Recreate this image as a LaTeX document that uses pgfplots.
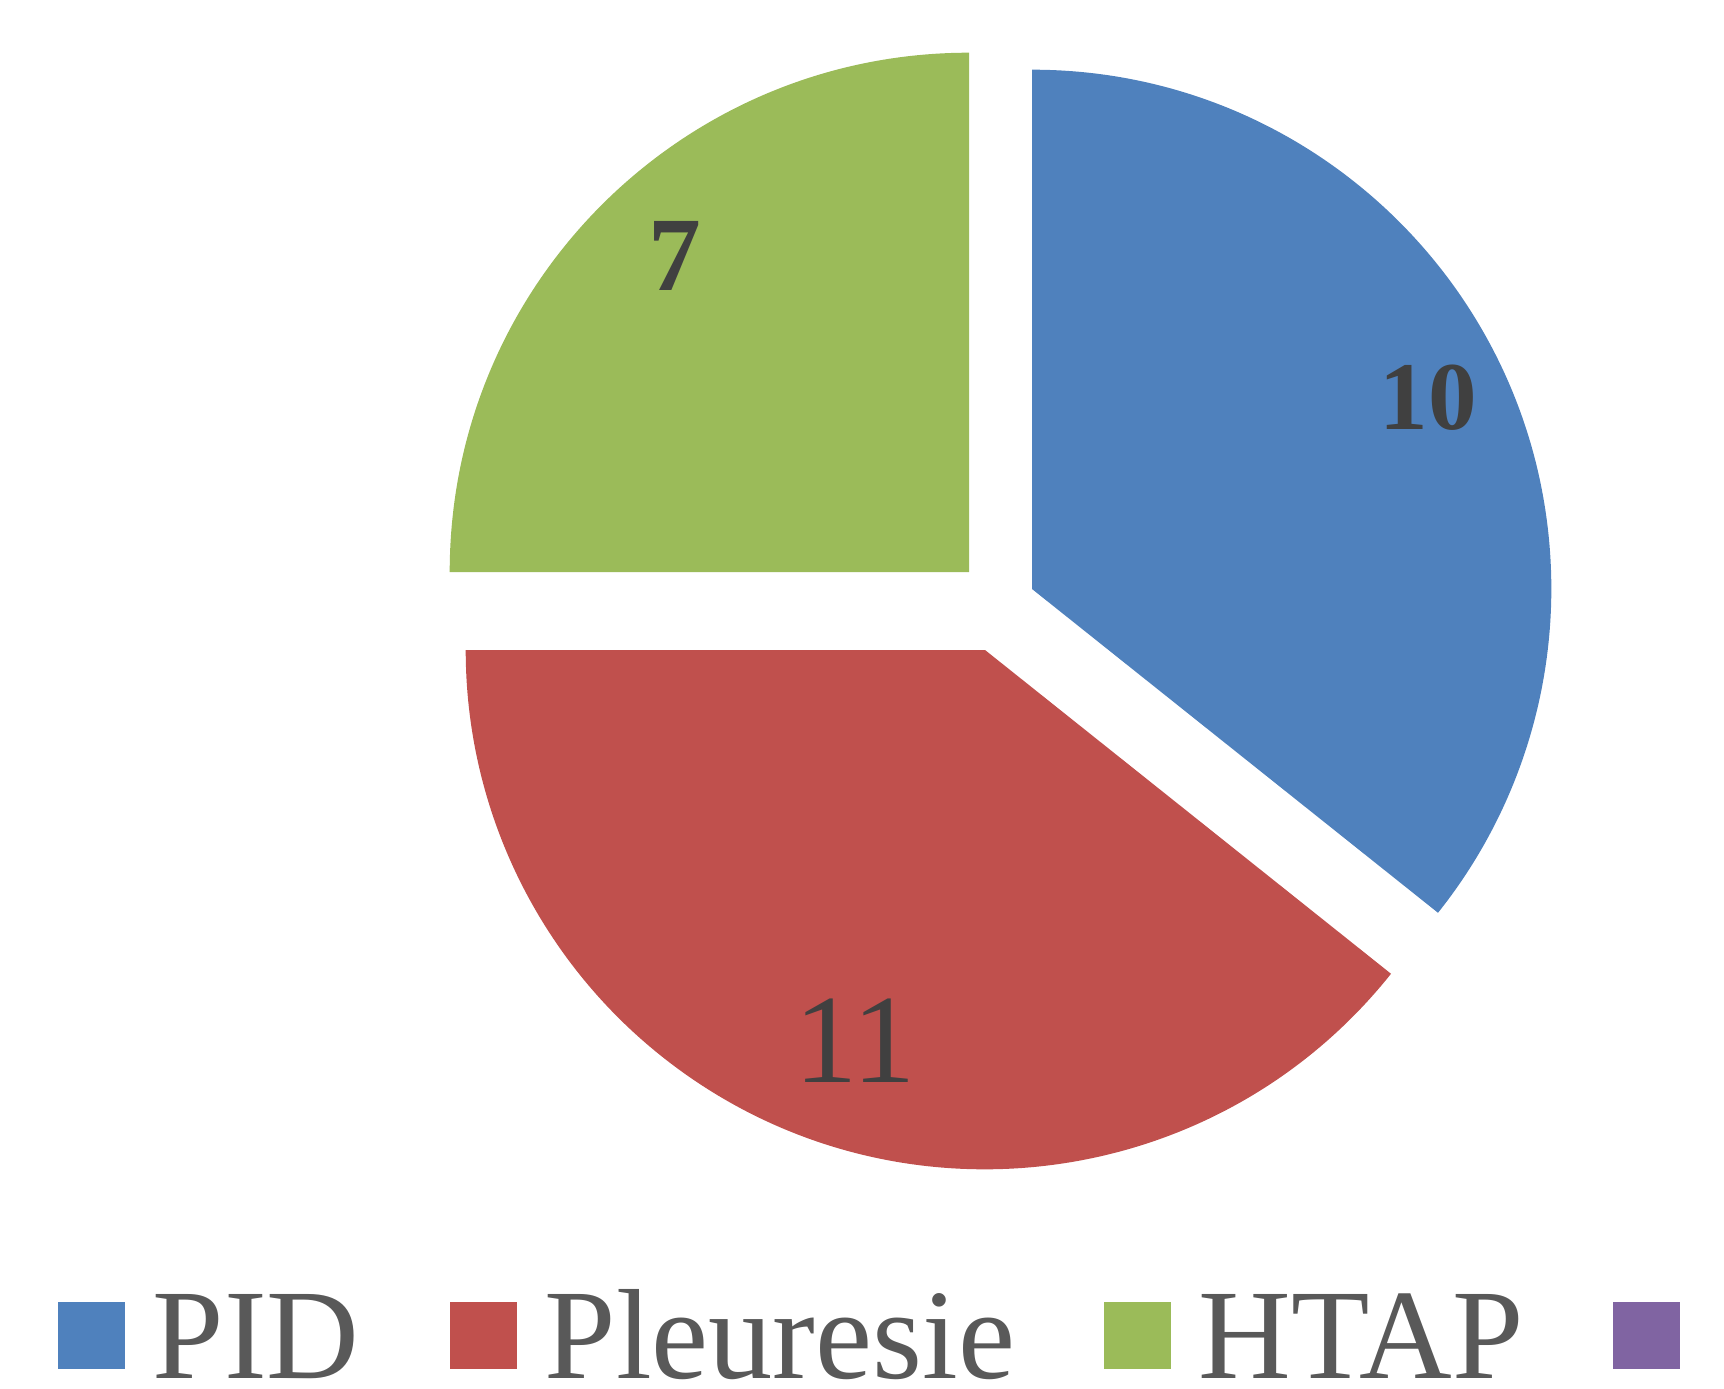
\documentclass[border=0pt]{standalone}
\usepackage{fontspec}
\setmainfont{Liberation Serif}
\usepackage{pgfplots}
\pgfplotsset{compat=1.18}
\usepackage{pgfplotstable}
\definecolor{cPID}{HTML}{4F81BD}
\definecolor{cPle}{HTML}{C0504D}
\definecolor{cHTAP}{HTML}{9BBB59}
\definecolor{cOther}{HTML}{8064A2}
\definecolor{lab}{HTML}{404040}
\definecolor{leg}{HTML}{595959}
\pgfplotstableread{
label value
PID 10
Pleuresie 11
HTAP 7
}\piedata
\pgfplotstablegetelem{0}{value}\of\piedata \let\vA\pgfplotsretval
\pgfplotstablegetelem{1}{value}\of\piedata \let\vB\pgfplotsretval
\pgfplotstablegetelem{2}{value}\of\piedata \let\vC\pgfplotsretval
\pgfmathsetmacro\total{\vA+\vB+\vC}
\pgfmathsetmacro\aA{90-360*\vA/\total}
\pgfmathsetmacro\aB{\aA-360*\vB/\total}
\pgfmathsetmacro\aC{\aB-360*\vC/\total}
\def\R{5.19cm}
\pgfkeys{/pgf/number format/assume math mode=true}
\begin{document}
\begin{tikzpicture}
\begin{axis}[
  x=0.01cm, y=0.01cm,
  xmin=0, xmax=1724, ymin=0, ymax=1388,
  hide axis, clip=false,
  /pgf/number format/assume math mode=true,
]
\path (axis cs:0,0) rectangle (axis cs:1724,1388);
% slices
\fill[cPID] (axis cs:1032,799) -- ++(90:\R) arc[start angle=90, end angle=\aA, radius=\R] -- cycle;
\fill[cPle] (axis cs:985,738) -- ++(\aA:\R) arc[start angle=\aA, end angle=\aB, radius=\R] -- cycle;
\fill[cHTAP] (axis cs:969,816) -- ++(\aB:\R) arc[start angle=\aB, end angle=\aC, radius=\R] -- cycle;
% data labels
\node[text=lab, font=\fontsize{27.6}{29}\selectfont\bfseries] at (axis cs:1428,990) {\pgfmathprintnumber{\vA}};
\node[text=lab, font=\fontsize{36}{38}\selectfont] at (axis cs:855,347) {\pgfmathprintnumber{\vB}};
\node[text=lab, font=\fontsize{30}{32}\selectfont\bfseries] at (axis cs:675,1132) {\pgfmathprintnumber{\vC}};
% legend
\fill[cPID] (axis cs:58,19) rectangle (axis cs:125,86);
\fill[cPle] (axis cs:450,19) rectangle (axis cs:517,86);
\fill[cHTAP] (axis cs:1104,19) rectangle (axis cs:1171,86);
\fill[cOther] (axis cs:1613,19) rectangle (axis cs:1680,86);
\tikzset{legtext/.style={anchor=base west, inner sep=0pt, text depth=0pt, text=leg, font=\fontsize{36.5}{40}\selectfont}}
\node[legtext] at (axis cs:152,10) {PID};
\node[legtext] at (axis cs:544,10) {Pleuresie};
\node[legtext] at (axis cs:1198,10) {HTAP};
\end{axis}
\end{tikzpicture}
\end{document}
